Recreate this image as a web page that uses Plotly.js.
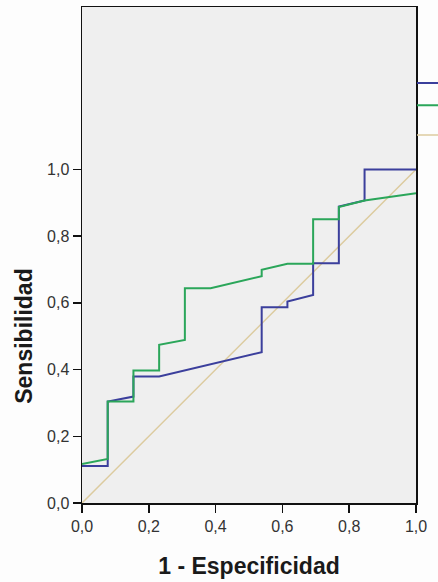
<!DOCTYPE html>
<html>
<head>
<meta charset="utf-8">
<script src="https://cdn.plot.ly/plotly-3.0.1.min.js"></script>
<style>
  html, body { margin: 0; padding: 0; background: #fdfdfd; }
  #chart { width: 438px; height: 582px; }
</style>
</head>
<body>
<div id="chart"></div>
<script>
// ROC curve data (1 - Especificidad vs Sensibilidad)
const serie1Name = "Variable 1";
const serie1X = [0, 0.077, 0.077, 0.154, 0.154, 0.231, 0.538, 0.538, 0.615, 0.615, 0.692, 0.692, 0.769, 0.769, 0.846, 0.846, 1.0];
const serie1Y = [0.111, 0.111, 0.304, 0.319, 0.379, 0.379, 0.452, 0.587, 0.587, 0.604, 0.624, 0.719, 0.719, 0.889, 0.907, 1.0, 1.0];

const serie2Name = "Variable 2";
const serie2X = [0, 0.077, 0.077, 0.154, 0.154, 0.231, 0.231, 0.308, 0.308, 0.385, 0.538, 0.538, 0.615, 0.692, 0.692, 0.769, 0.769, 0.846, 1.0];
const serie2Y = [0.117, 0.132, 0.304, 0.304, 0.397, 0.397, 0.474, 0.489, 0.644, 0.644, 0.680, 0.699, 0.717, 0.717, 0.851, 0.851, 0.887, 0.907, 0.929];

const refName = "Línea de referencia";
const refX = [0, 1];
const refY = [0, 1];

const tickVals = [0, 0.2, 0.4, 0.6, 0.8, 1.0];
const tickText = ["0,0", "0,2", "0,4", "0,6", "0,8", "1,0"];

const xTitle = "1 - Especificidad";
const yTitle = "Sensibilidad";

// The legend in the reference is cut off at the right edge: only the line
// samples are visible, so the legend labels are left empty (names kept in meta).
const traces = [
  { x: refX, y: refY, name: "", meta: refName, type: "scatter", mode: "lines",
    line: { color: "#dccb9f", width: 1.5 }, legend: "legend3" },
  { x: serie1X, y: serie1Y, name: "", meta: serie1Name, type: "scatter", mode: "lines",
    line: { color: "#3b3f9c", width: 2 }, legend: "legend" },
  { x: serie2X, y: serie2Y, name: "", meta: serie2Name, type: "scatter", mode: "lines",
    line: { color: "#2ba65a", width: 2 }, legend: "legend2" }
];

const font = { family: "Liberation Sans, Arial, sans-serif", color: "#222" };
const legBase = { x: 0.988, xanchor: "left", yanchor: "middle", bgcolor: "rgba(0,0,0,0)",
  borderwidth: 0, font: { family: font.family, size: 12, color: "#222" } };

const layout = {
  width: 438, height: 582,
  margin: { l: 82, r: 22, t: 7, b: 79, autoexpand: false },
  paper_bgcolor: "#fdfdfd",
  plot_bgcolor: "#efefef",
  separators: ",.",
  font: font,
  showlegend: true,
  legend: Object.assign({}, legBase, { y: 0.847 }),
  legend2: Object.assign({}, legBase, { y: 0.802 }),
  legend3: Object.assign({}, legBase, { y: 0.742 }),
  xaxis: {
    range: [0, 1], showgrid: false, zeroline: false,
    showline: true, linecolor: "#111", linewidth: 1.5, mirror: true,
    ticks: "outside", ticklen: 8, tickwidth: 1.5, tickcolor: "#111",
    tickvals: tickVals, ticktext: tickText,
    tickfont: { family: font.family, size: 16, color: "#333" },
    title: { text: xTitle, font: { family: font.family, size: 23, color: "#1a1a1a", weight: "bold" }, standoff: 24 }
  },
  yaxis: {
    range: [0, 1.487], showgrid: false, zeroline: false,
    showline: true, linecolor: "#111", linewidth: 1.5, mirror: true,
    ticks: "outside", ticklen: 8, tickwidth: 1.5, tickcolor: "#111",
    tickvals: tickVals, ticktext: tickText,
    tickfont: { family: font.family, size: 16, color: "#333" }
  },
  annotations: [
    { text: "<b>" + yTitle + "</b>", xref: "paper", yref: "y", x: -0.172, y: 0.5,
      xanchor: "center", yanchor: "middle", textangle: -90, showarrow: false,
      font: { family: font.family, size: 23, color: "#1a1a1a" } }
  ]
};

Plotly.newPlot("chart", traces, layout, { displayModeBar: false, staticPlot: true });
</script>
</body>
</html>
